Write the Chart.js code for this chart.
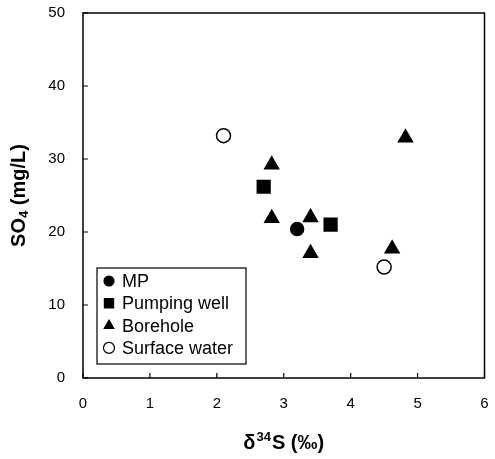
<!DOCTYPE html>
<html>
<head>
<meta charset="utf-8">
<script src="https://cdn.jsdelivr.net/npm/chart.js@4/dist/chart.umd.min.js"></script>
<style>
html,body{margin:0;padding:0;background:#fff;}
#wrap{width:495px;height:459px;position:relative;}
</style>
</head>
<body>
<div id="wrap"><canvas id="c" width="495" height="459"></canvas></div>
<script>
// ---- data ----
const categories = ['MP', 'Pumping well', 'Borehole', 'Surface water'];
const mpX = [3.2];
const mpY = [20.4];
const pumpX = [2.7, 3.7];
const pumpY = [26.2, 21.0];
const boreX = [2.82, 2.82, 3.4, 3.4, 4.62, 4.82];
const boreY = [29.2, 21.9, 22.0, 17.1, 17.7, 32.9];
const surfX = [2.1, 4.5];
const surfY = [33.2, 15.2];
const xTicks = [0, 1, 2, 3, 4, 5, 6];
const yTicks = [0, 10, 20, 30, 40, 50];
const xTitle = ['δ', '34', 'S (‰)'];
const yTitle = ['SO', '4', ' (mg/L)'];

const FONT = "'Liberation Sans', Arial, sans-serif";
function pts(xs, ys) { return xs.map((x, i) => ({x: x, y: ys[i]})); }

const styles = [
  {pointStyle: 'circle', radius: 6.5, bg: '#000', lg: 5},
  {pointStyle: 'rect', radius: 9, bg: '#000', lg: 6.5},
  {pointStyle: 'triangle', radius: 8, bg: '#000', lg: 5.5},
  {pointStyle: 'circle', radius: 7, bg: '#fff', lg: 5.5}
];
const series = [pts(mpX, mpY), pts(pumpX, pumpY), pts(boreX, boreY), pts(surfX, surfY)];

const datasets = categories.map((name, i) => ({
  label: name,
  data: series[i],
  pointStyle: styles[i].pointStyle,
  pointRadius: styles[i].radius,
  pointHoverRadius: styles[i].radius,
  pointBackgroundColor: styles[i].bg,
  pointBorderColor: '#000',
  pointBorderWidth: 1.5,
  showLine: false
}));

const framePlugin = {
  id: 'frame',
  beforeDatasetsDraw(chart) {
    const ctx = chart.ctx, a = chart.chartArea;
    const xs = chart.scales.x, ys = chart.scales.y;
    ctx.save();
    ctx.strokeStyle = '#000';
    ctx.lineWidth = 1.5;
    ctx.strokeRect(a.left, a.top, a.right - a.left, a.bottom - a.top);
    ctx.lineWidth = 1.2;
    ctx.beginPath();
    xTicks.forEach(v => {
      const px = xs.getPixelForValue(v);
      ctx.moveTo(px, a.bottom); ctx.lineTo(px, a.bottom - 5);
    });
    yTicks.forEach(v => {
      const py = ys.getPixelForValue(v);
      ctx.moveTo(a.left, py); ctx.lineTo(a.left + 5, py);
    });
    ctx.stroke();
    ctx.restore();
  },
  afterDraw(chart) {
    const ctx = chart.ctx, a = chart.chartArea;
    ctx.save();
    ctx.fillStyle = '#000';
    ctx.textBaseline = 'alphabetic';
    // x title
    const big = 'bold 20px ' + FONT, small = 'bold 13px ' + FONT;
    ctx.font = big; const w1 = ctx.measureText(xTitle[0]).width;
    ctx.font = small; const w2 = ctx.measureText(xTitle[1]).width;
    ctx.font = big; const w3 = ctx.measureText(xTitle[2]).width;
    let x0 = (a.left + a.right) / 2 - (w1 + w2 + w3 + 2) / 2;
    const by = 449;
    ctx.font = big; ctx.fillText(xTitle[0], x0, by);
    ctx.font = small; ctx.fillText(xTitle[1], x0 + w1 + 1, by - 8);
    ctx.font = big; ctx.fillText(xTitle[2], x0 + w1 + w2 + 2, by);
    // y title rotated
    ctx.translate(25, (a.top + a.bottom) / 2);
    ctx.rotate(-Math.PI / 2);
    const b2 = 'bold 20px ' + FONT, s2 = 'bold 13px ' + FONT;
    ctx.font = b2; const v1 = ctx.measureText(yTitle[0]).width;
    ctx.font = s2; const v2 = ctx.measureText(yTitle[1]).width;
    ctx.font = b2; const v3 = ctx.measureText(yTitle[2]).width;
    let y0 = -(v1 + v2 + v3) / 2;
    ctx.font = b2; ctx.fillText(yTitle[0], y0, 0);
    ctx.font = s2; ctx.fillText(yTitle[1], y0 + v1, 3);
    ctx.font = b2; ctx.fillText(yTitle[2], y0 + v1 + v2, 0);
    ctx.restore();

    // legend
    ctx.save();
    const bx = 97, bt = 268, bw = 149, bh = 96;
    ctx.fillStyle = '#fff';
    ctx.fillRect(bx, bt, bw, bh);
    ctx.strokeStyle = '#000'; ctx.lineWidth = 1.2;
    ctx.strokeRect(bx, bt, bw, bh);
    ctx.font = '18px ' + FONT;
    ctx.textBaseline = 'middle';
    categories.forEach((name, i) => {
      const cy = bt + 13 + i * 22.3;
      ctx.fillStyle = styles[i].bg; ctx.strokeStyle = '#000'; ctx.lineWidth = 1.2;
      if (Chart.helpers && Chart.helpers.drawPoint) {
        Chart.helpers.drawPoint(ctx, {pointStyle: styles[i].pointStyle, radius: styles[i].lg, borderWidth: 1.2, rotation: 0}, 109, cy);
      }
      ctx.fillStyle = '#000';
      ctx.fillText(name, 122, cy + 1);
    });
    ctx.restore();
  }
};

new Chart(document.getElementById('c'), {
  type: 'scatter',
  data: {datasets: datasets},
  options: {
    responsive: false,
    animation: false,
    devicePixelRatio: 1,
    layout: {padding: {top: 13, right: 3, left: 0, bottom: 0}},
    plugins: {legend: {display: false}, tooltip: {enabled: false}},
    events: [],
    scales: {
      x: {
        type: 'linear', min: 0, max: 6,
        afterBuildTicks: s => { s.ticks = xTicks.map(v => ({value: v})); },
        grid: {display: false, drawTicks: false},
        border: {display: false},
        ticks: {color: '#000', font: {family: FONT, size: 15}, padding: 17, maxRotation: 0, autoSkip: false},
        afterFit: s => { s.height = 81; s.paddingLeft = 0; s.paddingRight = 0; }
      },
      y: {
        type: 'linear', min: 0, max: 50,
        afterBuildTicks: s => { s.ticks = yTicks.map(v => ({value: v})); },
        grid: {display: false, drawTicks: false},
        border: {display: false},
        ticks: {color: '#000', font: {family: FONT, size: 15}, padding: 18, autoSkip: false},
        afterFit: s => { s.width = 83; s.paddingTop = 0; s.paddingBottom = 0; }
      }
    }
  },
  plugins: [framePlugin]
});
</script>
</body>
</html>
